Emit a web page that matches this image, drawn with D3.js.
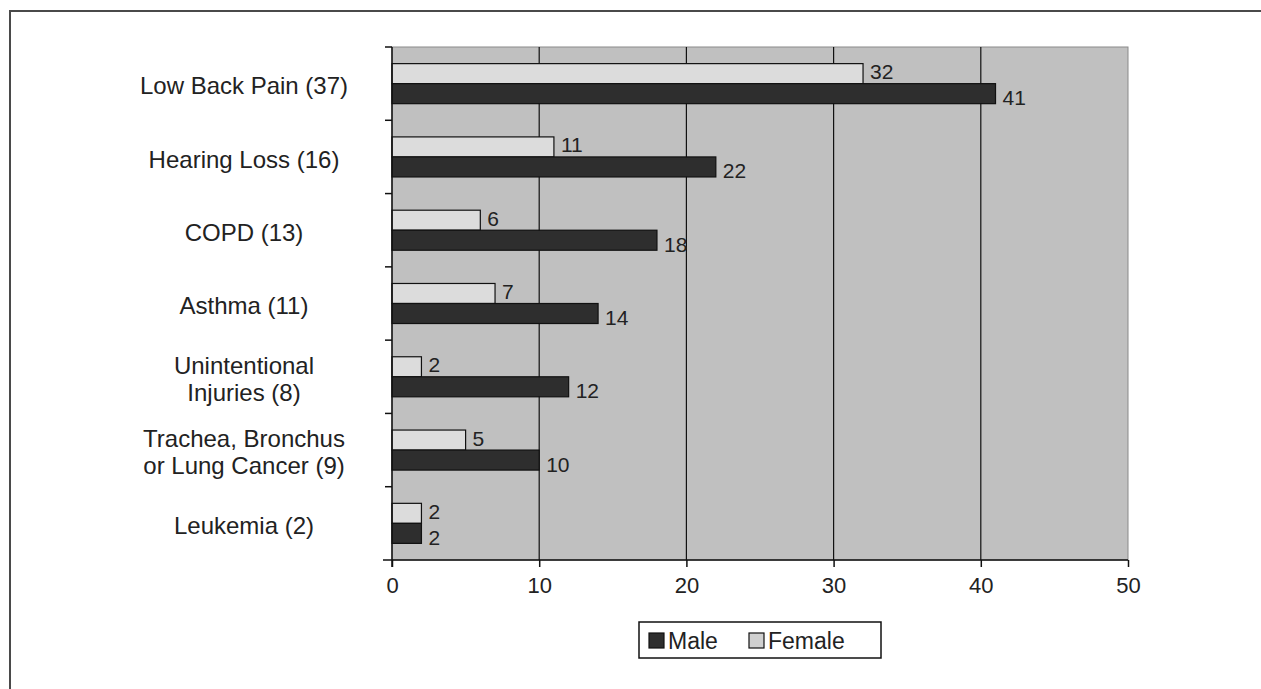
<!DOCTYPE html>
<html>
<head>
<meta charset="utf-8">
<script src="https://cdn.jsdelivr.net/npm/d3@7/dist/d3.min.js"></script>
<style>
  html, body { margin: 0; padding: 0; background: #fff; }
  svg { display: block; }
  text { font-family: "Liberation Sans", Arial, sans-serif; fill: #222; }
</style>
</head>
<body>
<svg id="chart" width="1261" height="689"></svg>
<script>
// Occupational disease burden, male vs female (line breaks marked with "\n")
const categories = [
  "Low Back Pain (37)",
  "Hearing Loss (16)",
  "COPD (13)",
  "Asthma (11)",
  "Unintentional\nInjuries (8)",
  "Trachea, Bronchus\nor Lung Cancer (9)",
  "Leukemia (2)"
];
const maleValues   = [41, 22, 18, 14, 12, 10, 2];
const femaleValues = [32, 11, 6, 7, 2, 5, 2];
const xTicks = [0, 10, 20, 30, 40, 50];
const seriesNames = ["Male", "Female"];

const colors = { Male: "#2e2e2e", Female: "#dcdcdc" };
// vertical nudge of each series' value label relative to its bar centre
const labelShift = { Female: -2, Male: 4 };

const svg = d3.select("#chart");

// outer frame (top and left edges)
svg.append("path")
  .attr("d", "M10,689 V11 H1261")
  .attr("fill", "none")
  .attr("stroke", "#4a4a4a")
  .attr("stroke-width", 2);

const plot = { left: 392, right: 1128, top: 47, bottom: 560 };

const x = d3.scaleLinear().domain([0, 50]).range([plot.left, plot.right]);
const y = d3.scaleBand().domain(d3.range(categories.length))
  .range([plot.top, plot.bottom]).paddingInner(0).paddingOuter(0);
const inner = d3.scaleBand().domain(["Female", "Male"])
  .range([0, y.bandwidth()]).paddingOuter(0.83).paddingInner(0);

// plot area background
svg.append("rect")
  .attr("x", plot.left).attr("y", plot.top)
  .attr("width", plot.right - plot.left).attr("height", plot.bottom - plot.top)
  .attr("fill", "#c0c0c0")
  .attr("stroke", "#8a8a8a").attr("stroke-width", 1);

// vertical gridlines
svg.append("g").selectAll("line")
  .data(xTicks.filter(d => d > 0 && d < 50))
  .join("line")
  .attr("x1", d => x(d)).attr("x2", d => x(d))
  .attr("y1", plot.top).attr("y2", plot.bottom)
  .attr("stroke", "#111").attr("stroke-width", 1.2);

// bars
const rows = categories.map((c, i) => ({ i, Male: maleValues[i], Female: femaleValues[i] }));
const groups = svg.append("g").selectAll("g")
  .data(rows).join("g")
  .attr("transform", d => `translate(0,${y(d.i)})`);

["Female", "Male"].forEach(s => {
  groups.append("rect")
    .attr("x", x(0))
    .attr("y", inner(s))
    .attr("width", d => x(d[s]) - x(0))
    .attr("height", inner.bandwidth())
    .attr("fill", colors[s])
    .attr("stroke", "#111")
    .attr("stroke-width", 1.2);
  groups.append("text")
    .attr("x", d => x(d[s]) + 7)
    .attr("y", inner(s) + inner.bandwidth() / 2 + labelShift[s])
    .attr("dy", "0.36em")
    .attr("font-size", 21)
    .text(d => d[s]);
});

// left axis with outward ticks at band boundaries
svg.append("line")
  .attr("x1", plot.left).attr("x2", plot.left)
  .attr("y1", plot.top).attr("y2", plot.bottom + 7)
  .attr("stroke", "#111").attr("stroke-width", 1.5);
svg.append("g").selectAll("line")
  .data(d3.range(categories.length))
  .join("line")
  .attr("x1", plot.left - 7).attr("x2", plot.left)
  .attr("y1", d => y(d)).attr("y2", d => y(d))
  .attr("stroke", "#111").attr("stroke-width", 1.5);

// bottom axis
const xAxis = d3.axisBottom(x).tickValues(xTicks).tickSize(7).tickPadding(10);
const gx = svg.append("g")
  .attr("transform", `translate(0,${plot.bottom})`)
  .call(xAxis);
gx.select(".domain").remove();
gx.append("line")
  .attr("x1", plot.left - 9).attr("x2", plot.right)
  .attr("stroke", "#111").attr("stroke-width", 1.5);
gx.selectAll(".tick line").attr("stroke", "#111").attr("stroke-width", 1.5);
gx.selectAll(".tick text")
  .attr("font-size", 22)
  .attr("font-family", "Liberation Sans, Arial, sans-serif")
  .attr("fill", "#222");

// category labels, centred, possibly two lines
const labelX = 244;
svg.append("g").selectAll("text")
  .data(categories.map((c, i) => ({ lines: c.split("\n"), i })))
  .join("text")
  .attr("text-anchor", "middle")
  .attr("font-size", 24)
  .each(function (d) {
    const t = d3.select(this);
    const cy = y(d.i) + y.bandwidth() / 2 + 2;
    const lh = 27;
    d.lines.forEach((line, k) => {
      t.append("tspan")
        .attr("x", labelX)
        .attr("y", cy + (k - (d.lines.length - 1) / 2) * lh)
        .attr("dy", "0.36em")
        .text(line);
    });
  });

// legend
const legend = svg.append("g").attr("transform", "translate(639,622)");
legend.append("rect")
  .attr("width", 242).attr("height", 36)
  .attr("fill", "#fff").attr("stroke", "#111").attr("stroke-width", 1.5);
const legendX = [10, 110];
seriesNames.forEach((s, k) => {
  legend.append("rect")
    .attr("x", legendX[k]).attr("y", 11)
    .attr("width", 15).attr("height", 15)
    .attr("fill", s === "Female" ? "#d0d0d0" : colors[s])
    .attr("stroke", "#111").attr("stroke-width", 1.2);
  legend.append("text")
    .attr("x", legendX[k] + 19).attr("y", 18.5)
    .attr("dy", "0.36em")
    .attr("font-size", 23)
    .text(s);
});
</script>
</body>
</html>
